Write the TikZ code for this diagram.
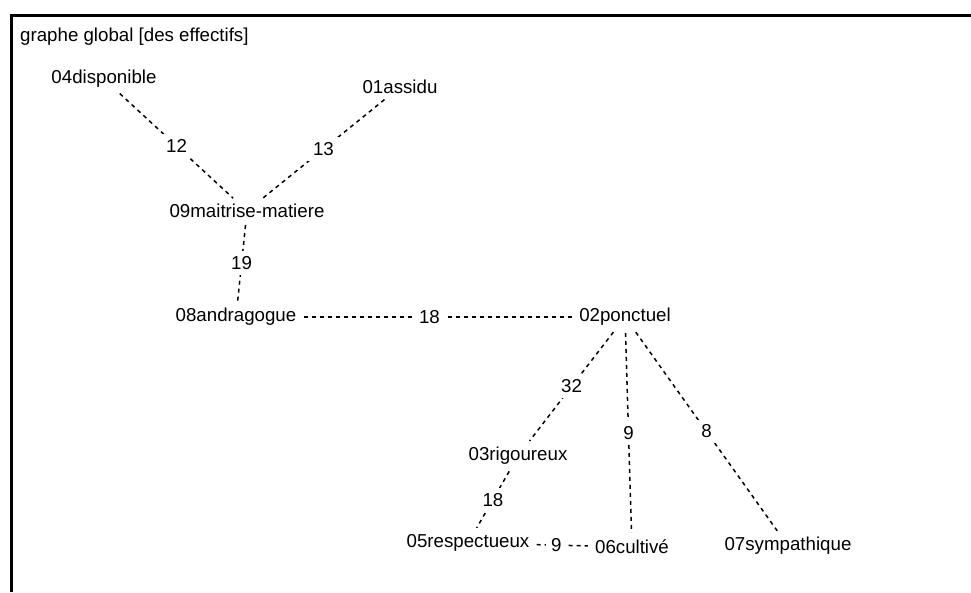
\documentclass[tikz,border=0pt]{standalone}
\usepackage{fontspec}
\setmainfont{Liberation Sans}
\begin{document}
\begin{tikzpicture}[x=1pt,y=-1pt,
		every node/.style={font=\fontsize{18.7}{22}\selectfont,inner sep=3pt},
		lien/.style={line width=1.5pt,dash pattern=on 4pt off 4pt,shorten <=4pt,shorten >=4pt},
		poids/.style={fill=white,inner sep=5pt}]
	\useasboundingbox (0,0) rectangle (971,592);
	\draw[line width=3pt] (11,592) -- (11,15) -- (971,15);
	\node[anchor=west] (titre) at (17,37) {graphe global [des effectifs]};
	\node (disponible) at (104,79) {04disponible};
	\node (assidu) at (400,87) {01assidu};
	\node (maitrise) at (247,211) {09maitrise-matiere};
	\node (andragogue) at (236,317) {08andragogue};
	\node (ponctuel) at (625,317) {02ponctuel};
	\node (rigoureux) at (518,456) {03rigoureux};
	\node (respectueux) at (468,543) {05respectueux};
	\node (cultive) at (632,547) {06cultivé};
	\node (sympathique) at (788,546) {07sympathique};
	\draw[lien] (disponible) -- node[poids] {12} (maitrise);
	\draw[lien] (assidu) -- node[poids] {13} (maitrise);
	\draw[lien] (maitrise) -- node[poids] {19} (andragogue);
	\draw[lien] (andragogue) -- node[poids,pos=0.47] {18} (ponctuel);
	\draw[lien] (ponctuel) -- node[poids] {32} (rigoureux);
	\draw[lien] (ponctuel) -- node[poids] {9} (cultive);
	\draw[lien] (ponctuel) -- node[poids] {8} (sympathique);
	\draw[lien] (rigoureux) -- node[poids] {18} (respectueux);
	\draw[lien] (respectueux) -- node[poids,pos=0.4] {9} (cultive);
\end{tikzpicture}
\end{document}
